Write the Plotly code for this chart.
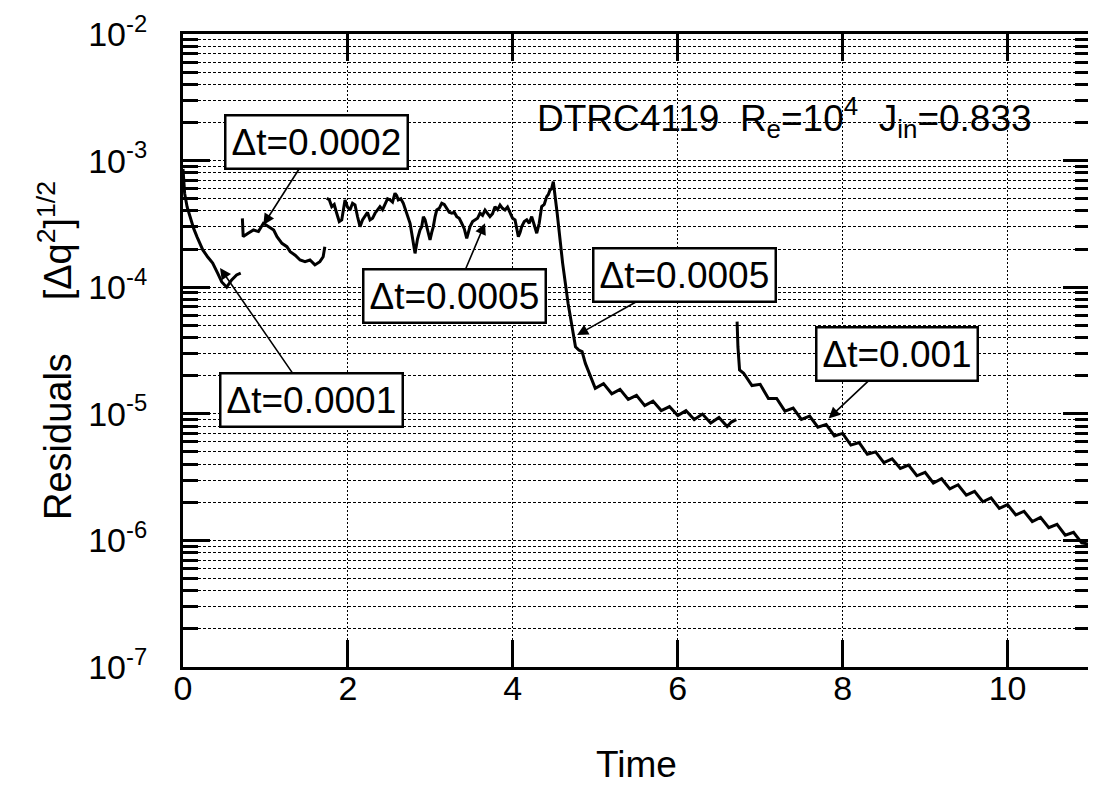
import plotly.graph_objects as go
import math

# ---- data ----
# Δt = 0.0001
t_dt1 = [0.0, 0.01, 0.02, 0.05, 0.085, 0.13, 0.17, 0.24, 0.30, 0.36, 0.42, 0.47, 0.53, 0.59, 0.65, 0.70]
r_dt1 = [8.6e-4, 7.0e-4, 5.5e-4, 4.3e-4, 3.6e-4, 2.9e-4, 2.5e-4, 1.97e-4, 1.73e-4, 1.55e-4, 1.29e-4, 1.10e-4,
         1.00e-4, 1.14e-4, 1.25e-4, 1.29e-4]

# Δt = 0.0002
t_dt2 = [0.72, 0.73, 0.79, 0.855, 0.915, 0.975, 1.04, 1.10, 1.14, 1.20, 1.26, 1.30, 1.36, 1.42, 1.48, 1.54,
         1.60, 1.66, 1.70, 1.72]
r_dt2 = [3.5e-4, 2.51e-4, 2.67e-4, 2.83e-4, 2.75e-4, 3.2e-4, 3.0e-4, 2.83e-4, 2.51e-4, 2.22e-4, 2.09e-4,
         1.91e-4, 1.79e-4, 1.64e-4, 1.59e-4, 1.64e-4, 1.50e-4, 1.59e-4, 1.74e-4, 2.09e-4]

# Δt = 0.0005 (noisy phase, then decay)
t_dt5 = [1.743, 1.774, 1.804, 1.834, 1.864, 1.895, 1.925, 1.945, 1.965, 1.995, 2.025, 2.056, 2.086, 2.117,
         2.147, 2.177, 2.207, 2.238, 2.268, 2.299, 2.329, 2.359, 2.389, 2.420, 2.450, 2.481, 2.511, 2.541,
         2.571, 2.591, 2.611, 2.642, 2.672, 2.703, 2.733, 2.754, 2.774, 2.794, 2.814, 2.844, 2.874, 2.895,
         2.915, 2.936, 2.956, 2.976, 2.996, 3.016, 3.036, 3.057, 3.077, 3.108, 3.138, 3.168, 3.198, 3.229,
         3.259, 3.290, 3.320, 3.350, 3.380, 3.411, 3.441, 3.461, 3.481, 3.512, 3.542, 3.572, 3.602, 3.633,
         3.663, 3.693, 3.723, 3.754, 3.784, 3.815, 3.845, 3.875, 3.905, 3.936, 3.966, 3.997, 4.027, 4.047,
         4.067, 4.088, 4.108, 4.139, 4.169, 4.199, 4.229, 4.260, 4.290, 4.320, 4.350, 4.381, 4.411, 4.431,
         4.451, 4.471, 4.491,
         4.538, 4.604, 4.670, 4.736, 4.76, 4.80, 4.84, 4.88, 4.93,
         5.0, 5.1, 5.2, 5.3, 5.4, 5.5, 5.6, 5.7, 5.8, 5.9, 6.0, 6.1, 6.2, 6.3, 6.4, 6.5, 6.6, 6.65, 6.71]
r_dt5 = [5.04e-4, 4.9e-4, 4.33e-4, 4.5e-4, 3.84e-4, 3.3e-4, 3.40e-4, 4.1e-4, 4.89e-4, 4.3e-4, 4.07e-4,
         4.6e-4, 4.46e-4, 3.6e-4, 3.01e-4, 3.4e-4, 3.61e-4, 3.9e-4, 3.40e-4, 3.5e-4, 3.84e-4, 4.1e-4,
         4.33e-4, 4.1e-4, 4.60e-4, 5.0e-4, 4.89e-4, 4.7e-4, 5.52e-4, 5.3e-4, 4.89e-4, 5.0e-4, 4.60e-4,
         4.0e-4, 3.61e-4, 3.2e-4, 2.67e-4, 2.2e-4, 1.85e-4, 2.4e-4, 2.83e-4, 3.0e-4, 3.61e-4, 3.4e-4,
         3.01e-4, 2.6e-4, 2.36e-4, 2.7e-4, 3.01e-4, 3.6e-4, 4.07e-4, 4.2e-4, 4.60e-4, 4.5e-4, 4.20e-4,
         3.9e-4, 3.84e-4, 3.9e-4, 3.61e-4, 3.5e-4, 3.20e-4, 2.9e-4, 2.43e-4, 2.7e-4, 3.01e-4, 3.3e-4,
         3.40e-4, 3.5e-4, 3.84e-4, 3.7e-4, 4.07e-4, 3.8e-4, 3.61e-4, 3.8e-4, 4.33e-4, 4.1e-4, 4.46e-4,
         4.2e-4, 4.07e-4, 4.3e-4, 3.84e-4, 3.5e-4, 3.40e-4, 2.9e-4, 2.51e-4, 2.7e-4, 3.01e-4, 3.3e-4,
         3.40e-4, 3.2e-4, 3.61e-4, 3.1e-4, 2.67e-4, 3.2e-4, 4.33e-4, 4.5e-4, 5.19e-4, 5.4e-4, 5.86e-4,
         6.0e-4, 6.81e-4,
         3.84e-4, 1.55e-4, 7.46e-5, 4.32e-5, 3.39e-5, 3.19e-5, 3.1e-5, 2.5e-5, 2.1e-5,
         1.59e-5, 1.73e-5, 1.44e-5, 1.56e-5, 1.30e-5, 1.40e-5, 1.16e-5, 1.26e-5, 1.06e-5, 1.14e-5, 9.68e-6,
         1.06e-5, 9.02e-6, 9.95e-6, 8.47e-6, 9.35e-6, 7.94e-6, 8.6e-6, 9.0e-6]

# Δt = 0.001
t_dt10 = [6.72, 6.73, 6.75, 6.8, 6.9, 7.0, 7.1, 7.2, 7.3, 7.4, 7.5, 7.6, 7.7, 7.8, 7.9, 8.0, 8.1, 8.2, 8.3,
          8.4, 8.5, 8.6, 8.7, 8.8, 8.9, 9.0, 9.1, 9.2, 9.3, 9.4, 9.5, 9.6, 9.7, 9.8, 9.9, 10.0, 10.1, 10.2,
          10.3, 10.4, 10.5, 10.6, 10.7, 10.8, 10.9, 11.0]
r_dt10 = [5.35e-5, 3.39e-5, 2.22e-5, 2.09e-5, 1.67e-5, 1.71e-5, 1.32e-5, 1.32e-5, 1.05e-5, 1.11e-5, 9.04e-6,
          9.59e-6, 7.83e-6, 8.24e-6, 6.68e-6, 7.0e-6, 5.66e-6, 5.93e-6, 4.79e-6, 5.0e-6, 4.12e-6, 4.41e-6,
          3.70e-6, 3.94e-6, 3.24e-6, 3.45e-6, 2.84e-6, 3.07e-6, 2.55e-6, 2.75e-6, 2.28e-6, 2.44e-6, 2.02e-6,
          2.17e-6, 1.79e-6, 1.92e-6, 1.59e-6, 1.70e-6, 1.41e-6, 1.52e-6, 1.26e-6, 1.34e-6, 1.10e-6, 1.16e-6,
          9.57e-7, 9.3e-7]

# tick labels
x_ticks = [0, 2, 4, 6, 8, 10]
y_tickvals = [1e-7, 1e-6, 1e-5, 1e-4, 1e-3, 1e-2]
y_ticktext = ["10<sup>-7</sup>", "10<sup>-6</sup>", "10<sup>-5</sup>", "10<sup>-4</sup>",
              "10<sup>-3</sup>", "10<sup>-2</sup>"]

# annotation labels: (text, arrow-head time, arrow-head residual, ax, ay)
labels = ["Δt=0.0002", "Δt=0.0001", "Δt=0.0005", "Δt=0.0005", "Δt=0.001"]
label_t = [0.974, 0.449, 3.663, 4.779, 7.83]
label_r = [3.10e-4, 1.42e-4, 3.20e-4, 4.19e-5, 9.2e-6]
label_ax = [53, 91, -31, 107, 68]
label_ay = [-83, 132, 73, -60, -64]

FONT = "Liberation Sans, Arial, Helvetica, sans-serif"

fig = go.Figure()
for tt, rr in [(t_dt1, r_dt1), (t_dt2, r_dt2), (t_dt5, r_dt5), (t_dt10, r_dt10)]:
    fig.add_trace(go.Scatter(x=tt, y=rr, mode="lines",
                             line=dict(color="black", width=3), showlegend=False))

for txt, xt, yr, ax, ay in zip(labels, label_t, label_r, label_ax, label_ay):
    fig.add_annotation(x=xt, y=math.log10(yr), text=txt, showarrow=True,
                       ax=ax, ay=ay, arrowhead=2, arrowsize=1.4, arrowwidth=1.6,
                       arrowcolor="black", bordercolor="black", borderwidth=2.5,
                       borderpad=5, bgcolor="white",
                       font=dict(family=FONT, size=37, color="black"))

fig.add_annotation(x=7.3, y=-2.66, text="DTRC4119\u00a0\u00a0R<sub>e</sub>=10<sup>4</sup>\u00a0\u00a0J<sub>in</sub>=0.833",
                   showarrow=False, xanchor="center", yanchor="middle",
                   font=dict(family=FONT, size=37, color="black"))

grid_dash = "3px,2px"
# page is shown with an 8px body margin, so the figure is 8px smaller than the window
fig.update_layout(
    width=1088, height=784,
    margin=dict(l=175, r=6, t=26, b=125, autoexpand=False),
    paper_bgcolor="white", plot_bgcolor="white",
    font=dict(family=FONT, size=34, color="black"),
    xaxis=dict(range=[0, 11], tickmode="array", tickvals=x_ticks, automargin=False,
               ticks="inside", ticklen=27, tickwidth=3, tickcolor="black",
               showline=True, linewidth=3, linecolor="black", mirror="ticks",
               showgrid=True, gridcolor="black", gridwidth=1, griddash="2px,2px",
               zeroline=False, ticklabelstandoff=-11,
               tickfont=dict(size=34),
               title=dict(text="Time", font=dict(size=37), standoff=46)),
    yaxis=dict(type="log", range=[-7, -2], tickmode="array", automargin=False,
               tickvals=y_tickvals, ticktext=y_ticktext,
               ticks="inside", ticklen=27, tickwidth=3, tickcolor="black",
               showline=True, linewidth=3, linecolor="black", mirror="ticks",
               showgrid=True, gridcolor="black", gridwidth=1, griddash=grid_dash,
               zeroline=False, ticklabelstandoff=26,
               minor=dict(ticks="inside", ticklen=15, tickwidth=3, tickcolor="black",
                          dtick="D1", showgrid=True, gridcolor="black", gridwidth=1,
                          griddash=grid_dash),
               tickfont=dict(size=34),
               title=dict(text="Residuals\u00a0\u00a0\u00a0\u00a0\u00a0[Δq<sup>2</sup>]<sup>1/2</sup>",
                          font=dict(size=38), standoff=5)),
)

fig.write_html("out.html")
